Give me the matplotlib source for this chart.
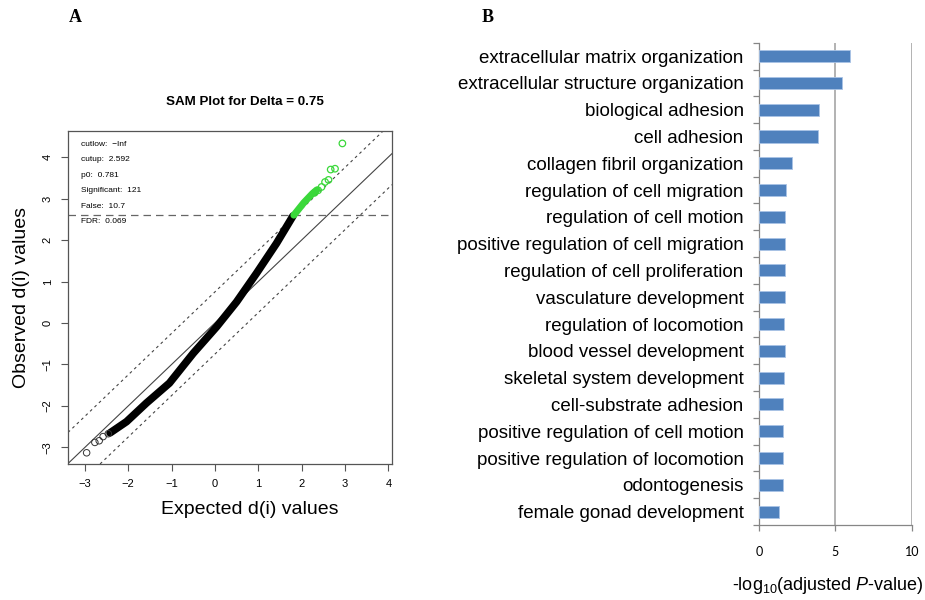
import numpy as np
import matplotlib.pyplot as plt

plt.rcParams['font.family'] = ['Liberation Sans', 'DejaVu Sans']
plt.rcParams['mathtext.fontset'] = 'custom'
plt.rcParams['mathtext.rm'] = 'Liberation Sans'
plt.rcParams['mathtext.it'] = 'Liberation Sans:italic'

# ---- Panel A: SAM plot ----
delta = 0.75
cutup = 2.592
info_lines = ["cutlow:  \u2212Inf", "cutup:  2.592", "p0:  0.781",
              "Significant:  121", "False:  10.7", "FDR:  0.069"]

# dense band of non-significant genes (black)
exp_band = [-2.42, -2.04, -1.58, -1.05, -0.50, 0.04, 0.50, 0.96, 1.42, 1.80]
obs_band = [-2.65, -2.38, -1.93, -1.45, -0.73, -0.09, 0.51, 1.20, 1.92, 2.58]
# isolated black circles at the low end
exp_low = [-2.96, -2.77, -2.67, -2.58, -2.46]
obs_low = [-3.13, -2.88, -2.84, -2.74, -2.67]
# significant genes (green)
exp_green = [1.82, 2.05, 2.25, 2.35]
obs_green = [2.60, 2.90, 3.12, 3.21]
exp_hi = [2.30, 2.38, 2.46, 2.54, 2.62, 2.67, 2.77, 2.94]
obs_hi = [3.14, 3.20, 3.28, 3.40, 3.45, 3.70, 3.72, 4.33]

# ---- Panel B: GO terms ----
go_terms = ["extracellular matrix organization", "extracellular structure organization",
            "biological adhesion", "cell adhesion", "collagen fibril organization",
            "regulation of cell migration", "regulation of cell motion",
            "positive regulation of cell migration", "regulation of cell proliferation",
            "vasculature development", "regulation of locomotion",
            "blood vessel development", "skeletal system development",
            "cell-substrate adhesion", "positive regulation of cell motion",
            "positive regulation of locomotion", "odontogenesis",
            "female gonad development"]
neg_log_p = [5.92, 5.42, 3.95, 3.84, 2.17, 1.75, 1.69, 1.69, 1.69, 1.67,
             1.65, 1.67, 1.65, 1.56, 1.56, 1.56, 1.56, 1.34]
b_ticks = [0, 5, 10]

fig = plt.figure(figsize=(9.25, 6), dpi=100)

green = '#3AD83A'
frame = '#555555'

ax = fig.add_axes([0.0735, 0.2267, 0.3503, 0.555])
ax.set_xlim(-3.39, 4.085)
ax.set_ylim(-3.40, 4.63)
ax.axline((0, 0), slope=1, color='#444444', lw=0.8)
ax.axline((0, delta), slope=1, color='#444444', lw=0.8, ls=(0, (2.5, 3)))
ax.axline((0, -delta), slope=1, color='#444444', lw=0.8, ls=(0, (2.5, 3)))
ax.axhline(cutup, color='#666666', lw=0.9, ls=(0, (6, 4)))
ax.plot(exp_band, obs_band, color='black', lw=5.5, solid_capstyle='round',
        solid_joinstyle='round', zorder=3)
ax.plot(exp_green, obs_green, color=green, lw=5, solid_capstyle='round',
        solid_joinstyle='round', zorder=3)
ax.scatter(exp_low, obs_low, facecolors='none', edgecolors='#333333', s=22, lw=0.7, zorder=4)
ax.scatter(exp_hi, obs_hi, facecolors='none', edgecolors=green, s=22, lw=0.9, zorder=4)

ax.set_xticks(np.arange(-3, 5))
ax.set_yticks(np.arange(-3, 5))
ax.tick_params(length=5, width=0.8, color=frame, labelsize=8, pad=6)
ax.tick_params(axis='y', labelrotation=90)
for lab in ax.get_yticklabels():
    lab.set_va('center')
for s in ax.spines.values():
    s.set_color(frame)
    s.set_linewidth(0.9)

for i, line in enumerate(info_lines):
    ax.text(0.04, 0.96 - i * 0.0465, line, transform=ax.transAxes, fontsize=6,
            va='center', ha='left')

fig.text(245 / 925, 1 - 102 / 600, "SAM Plot for Delta = 0.75", fontsize=9.6,
         fontweight='bold', ha='center', va='center')
fig.text(250 / 925, 1 - 510 / 600, "Expected d(i) values", fontsize=14,
         ha='center', va='center')
fig.text(22 / 925, 1 - 298 / 600, "Observed d(i) values", fontsize=14,
         ha='center', va='center', rotation=90)

# Panel B
axb = fig.add_axes([0.8205, 0.125, 0.1654, 0.8038])
y = np.arange(len(go_terms))
axb.barh(y, neg_log_p, height=0.45, color='#4F81BD', edgecolor='#A9C3E6', lw=0.6, zorder=3)
axb.set_xlim(0, 10)
axb.set_ylim(len(go_terms) - 0.5, -0.5)
for v in b_ticks[1:]:
    axb.axvline(v, color='#A6A6A6', lw=1.2, zorder=1)
axb.set_xticks(b_ticks)
axb.set_yticks(y)
axb.set_yticklabels(go_terms, fontsize=13.5)
axb.set_yticks(np.arange(-0.5, len(go_terms)), minor=True)
axb.tick_params(axis='y', which='major', length=0, pad=11)
axb.tick_params(axis='y', which='minor', length=4, color='#868686', width=0.9)
axb.tick_params(axis='x', length=4, color='#868686', width=0.9, pad=11, labelsize=9)
for lab in axb.get_xticklabels():
    lab.set_family(['Lato', 'DejaVu Sans'])
for side in ['top', 'right']:
    axb.spines[side].set_visible(False)
for side in ['left', 'bottom']:
    axb.spines[side].set_color('#868686')
    axb.spines[side].set_linewidth(0.9)

fig.text(828 / 925, 1 - 585 / 600, r"-log$_{10}$(adjusted $P$-value)", fontsize=13,
         ha='center', va='center')

fig.text(75 / 925, 1 - 18 / 600, "A", family=['Liberation Serif'], fontweight='bold',
         fontsize=13, ha='center', va='center')
fig.text(488 / 925, 1 - 18 / 600, "B", family=['Liberation Serif'], fontweight='bold',
         fontsize=13, ha='center', va='center')

fig.savefig("out.png", dpi=100)
